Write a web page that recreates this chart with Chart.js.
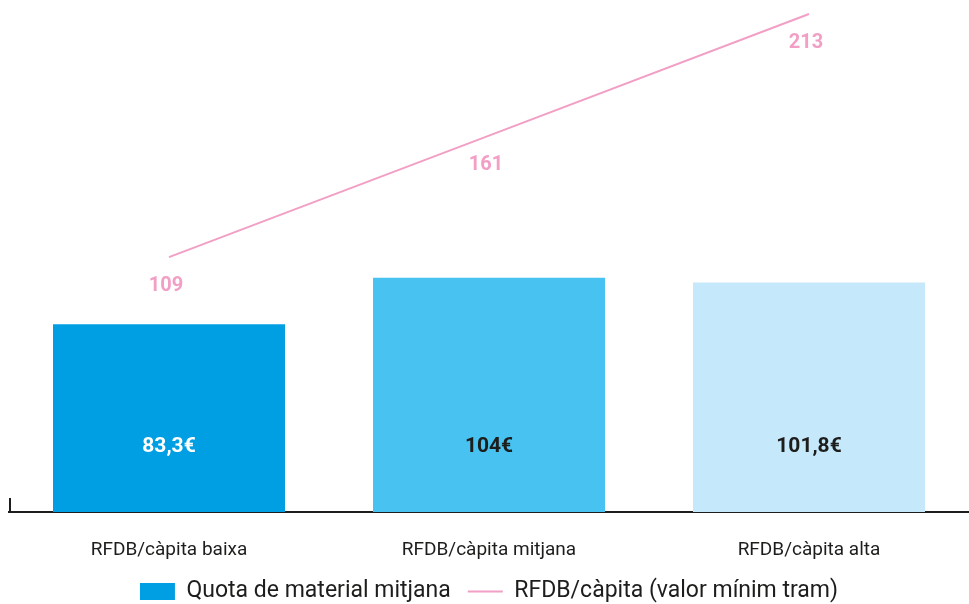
<!DOCTYPE html>
<html>
<head>
<meta charset="utf-8">
<script src="https://cdn.jsdelivr.net/npm/chart.js@4"></script>
<style>
	html, body { margin: 0; padding: 0; background: #fff; }
	#wrap { width: 969px; height: 604px; }
</style>
</head>
<body>
<div id="wrap"><canvas id="chart"></canvas></div>
<script>
// categories and series
const categories = ["RFDB/càpita baixa", "RFDB/càpita mitjana", "RFDB/càpita alta"];
const quotaMaterial = [83.3, 104, 101.8];
const rfdbMinim = [109, 161, 213];
const quotaLabels = ["83,3€", "104€", "101,8€"];

const barColors = ["#009fe3", "#47c2f1", "#c6e8fb"];
const barTextColors = ["#ffffff", "#1d1d1b", "#1d1d1b"];
const pink = "#f29fc5";

// value labels inside the bars and under the line points
const valueLabels = {
	id: 'valueLabels',
	afterDatasetsDraw(chart) {
		const ctx = chart.ctx;
		const area = chart.chartArea;
		ctx.save();
		ctx.textAlign = 'center';
		ctx.textBaseline = 'middle';

		ctx.font = "bold 21px Roboto";
		chart.getDatasetMeta(0).data.forEach((bar, i) => {
			ctx.fillStyle = barTextColors[i];
			ctx.fillText(quotaLabels[i], bar.x, area.bottom - 65);
		});

		ctx.font = "bold 20px Roboto";
		ctx.fillStyle = pink;
		chart.getDatasetMeta(1).data.forEach((pt, i) => {
			ctx.fillText(String(rfdbMinim[i]), pt.x - 3, pt.y + 29);
		});

		// small tick at the left end of the base line
		ctx.strokeStyle = "#1d1d1b";
		ctx.lineWidth = 2;
		ctx.beginPath();
		ctx.moveTo(area.left + 1, area.bottom - 14);
		ctx.lineTo(area.left + 1, area.bottom);
		ctx.stroke();
		ctx.restore();
	}
};

var comboChart = new Chart(document.getElementById("chart"), {
	type: 'bar',
	data: {
		labels: categories,
		datasets: [
			{
				type: 'bar',
				label: "Quota de material mitjana",
				data: quotaMaterial,
				backgroundColor: barColors,
				barPercentage: 0.725,
				categoryPercentage: 1,
				yAxisID: 'y',
				order: 2
			},
			{
				type: 'line',
				label: "RFDB/càpita (valor mínim tram)",
				data: rfdbMinim,
				borderColor: pink,
				backgroundColor: pink,
				borderWidth: 2,
				pointRadius: 0,
				tension: 0,
				clip: false,
				yAxisID: 'y1',
				order: 1
			}
		]
	},
	options: {
		responsive: true,
		maintainAspectRatio: false,
		animation: false,
		layout: { padding: { top: 14, left: 9, right: 0, bottom: -9 } },
		scales: {
			x: {
				grid: { display: false, drawTicks: false },
				border: { display: true, color: "#1d1d1b", width: 2 },
				ticks: {
					color: "#1d1d1b",
					font: { family: "Roboto", size: 19 },
					padding: 27
				},
				afterFit(scale) {
					scale.height = 51;
				}
			},
			y: { display: false, min: 0, max: 221 },
			y1: { display: false, min: 0, max: 213 }
		},
		plugins: {
			tooltip: { enabled: false },
			legend: {
				position: 'bottom',
				labels: {
					color: "#1d1d1b",
					font: { family: "Roboto", size: 23 },
					usePointStyle: true,
					pointStyleWidth: 35,
					boxHeight: 17,
					padding: 17,
					generateLabels(chart) {
						return [
							{
								text: "Quota de material mitjana",
								fillStyle: barColors[0],
								strokeStyle: barColors[0],
								lineWidth: 0,
								fontColor: "#1d1d1b",
								pointStyle: 'rect',
								datasetIndex: 0
							},
							{
								text: "RFDB/càpita (valor mínim tram)",
								fillStyle: pink,
								strokeStyle: pink,
								lineWidth: 2,
								fontColor: "#1d1d1b",
								pointStyle: 'line',
								datasetIndex: 1
							}
						];
					}
				}
			}
		}
	},
	plugins: [valueLabels]
});
</script>
</body>
</html>
